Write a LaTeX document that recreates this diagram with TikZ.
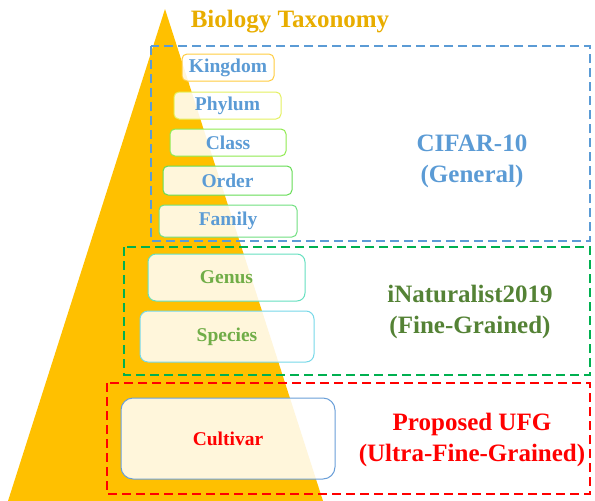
\documentclass[tikz,border=0pt]{standalone}
\usepackage{fontspec}
\setmainfont{Liberation Serif}
\definecolor{gold}{HTML}{FFC000}
\definecolor{titlegold}{HTML}{E8AD00}
\definecolor{cblue}{HTML}{5B9BD5}
\definecolor{cgreen}{HTML}{00B050}
\definecolor{tgreen}{HTML}{70AD47}
\definecolor{dgreen}{HTML}{548235}
\definecolor{cred}{HTML}{FF0000}
\definecolor{bKing}{HTML}{FFCC40}
\definecolor{bPhy}{HTML}{E4F060}
\definecolor{bCla}{HTML}{8FEA50}
\definecolor{bOrd}{HTML}{66DD55}
\definecolor{bFam}{HTML}{70E080}
\definecolor{bGen}{HTML}{66E0C0}
\definecolor{bSpe}{HTML}{77D8E8}
\definecolor{bCul}{HTML}{6A9FD8}
\tikzset{
  taxbox/.style={draw, line width=1pt, rounded corners=5pt, fill=white, fill opacity=0.86, text opacity=1,
    inner sep=0pt, font=\fontsize{19.5}{21}\selectfont\bfseries},
  groupbox/.style={draw, line width=2.2pt, dash pattern=on 9pt off 5pt},
  grouplabel/.style={align=center, font=\fontsize{25}{31}\selectfont\bfseries},
}
\begin{document}
\begin{tikzpicture}[x=1pt,y=-1pt]
\useasboundingbox (0,0) rectangle (595,501);
% pyramid
\fill[gold] (165,9) -- (8,501) -- (323,501) -- cycle;
% title
\node[font=\fontsize{25}{28}\selectfont\bfseries, text=titlegold] (title) at (290,22) {Biology Taxonomy};
% group boxes
\draw[groupbox, cblue] (151,46) rectangle (590,241);
\draw[groupbox, cgreen] (124,247) rectangle (590,375);
\draw[groupbox, cred] (107,383) rectangle (590,494);
% taxonomy levels
\node[taxbox, draw=bKing, text=cblue, minimum width=92pt, minimum height=27pt] (kingdom) at (228,67.5) {Kingdom};
\node[taxbox, draw=bPhy, text=cblue, minimum width=107pt, minimum height=27pt] (phylum) at (227.5,105.5) {Phylum};
\node[taxbox, draw=bCla, text=cblue, minimum width=116pt, minimum height=27pt] (class) at (228,142.5) {Class};
\node[taxbox, draw=bOrd, text=cblue, minimum width=129pt, minimum height=29pt] (order) at (227.5,180.5) {Order};
\node[taxbox, draw=bFam, text=cblue, minimum width=138pt, minimum height=32pt] (family) at (228,221) {Family};
\node[taxbox, draw=bGen, text=tgreen, minimum width=157pt, minimum height=47pt, rounded corners=8pt] (genus) at (226.5,277.5) {Genus};
\node[taxbox, draw=bSpe, text=tgreen, minimum width=174pt, minimum height=51pt, rounded corners=8pt] (species) at (227,336.5) {Species};
\node[taxbox, draw=bCul, text=cred, minimum width=214pt, minimum height=81pt, rounded corners=12pt] (cultivar) at (228,438.5) {Cultivar};
% group labels
\node[grouplabel, text=cblue] (cifar) at (472,161) {CIFAR-10\\(General)};
\node[grouplabel, text=dgreen] (inat) at (470,312) {iNaturalist2019\\(Fine-Grained)};
\node[grouplabel, text=cred] (ufg) at (472,440) {Proposed UFG\\(Ultra-Fine-Grained)};
\end{tikzpicture}
\end{document}
